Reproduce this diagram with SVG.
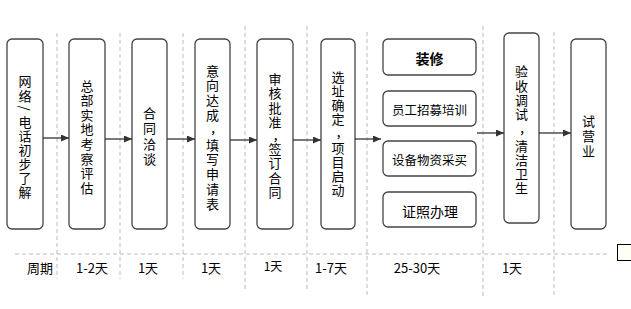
<svg xmlns="http://www.w3.org/2000/svg" width="631" height="309" viewBox="0 0 631 309">
<style>
.box{fill:#fff;stroke:#444;stroke-width:1.3}
.dash{stroke:#bbb;stroke-width:1;stroke-dasharray:4 3;fill:none}
.t{font-family:"Noto Sans CJK SC","Noto Sans CJK JP",sans-serif;font-size:13px;fill:#000;text-anchor:middle;dominant-baseline:central}
.h{font-family:"Noto Sans CJK SC",sans-serif;font-size:12.5px;fill:#000;text-anchor:middle;dominant-baseline:central}
.b{font-family:"Noto Sans CJK SC",sans-serif;font-size:13px;fill:#000;text-anchor:middle}
.arr{stroke:#333;stroke-width:1.3;fill:none;marker-end:url(#ah)}
</style>
<defs>
<marker id="ah" markerUnits="userSpaceOnUse" markerWidth="8" markerHeight="7" refX="8" refY="3.5" orient="auto">
<path d="M0,0 L8,3.5 L0,7 z" fill="#333"/>
</marker>
</defs>
<rect width="631" height="309" fill="#fff"/>
<g id="grid">
<line class="dash" x1="15" y1="254" x2="607" y2="254"/>
<line class="dash" x1="57" y1="33" x2="57" y2="279"/>
<line class="dash" x1="120" y1="33" x2="120" y2="279"/>
<line class="dash" x1="183" y1="33" x2="183" y2="279"/>
<line class="dash" x1="245" y1="26" x2="245" y2="291"/>
<line class="dash" x1="307" y1="26" x2="307" y2="291"/>
<line class="dash" x1="367" y1="32" x2="367" y2="297"/>
<line class="dash" x1="483" y1="26" x2="483" y2="297"/>
<line class="dash" x1="554" y1="32" x2="554" y2="295"/>
</g>
<g id="n1">
<rect class="box" x="7" y="39" width="36" height="190" rx="5"/>
<text class="t" x="25" y="80">网</text>
<text class="t" x="25" y="95">络</text>
<text class="t" x="25" y="108" transform="rotate(90 25 108)">/</text>
<text class="t" x="25" y="121">电</text>
<text class="t" x="25" y="135">话</text>
<text class="t" x="25" y="149">初</text>
<text class="t" x="25" y="163">步</text>
<text class="t" x="25" y="177">了</text>
<text class="t" x="25" y="191">解</text>
</g>
<g id="n2">
<rect class="box" x="69" y="39" width="36" height="190" rx="5"/>
<text class="t" x="87" y="85">总</text>
<text class="t" x="87" y="99.6">部</text>
<text class="t" x="87" y="114.2">实</text>
<text class="t" x="87" y="128.8">地</text>
<text class="t" x="87" y="143.4">考</text>
<text class="t" x="87" y="158">察</text>
<text class="t" x="87" y="172.6">评</text>
<text class="t" x="87" y="187.2">估</text>
</g>
<g id="n3">
<rect class="box" x="132" y="39" width="35" height="190" rx="5"/>
<text class="t" x="149.5" y="112">合</text>
<text class="t" x="149.5" y="127">同</text>
<text class="t" x="149.5" y="143">洽</text>
<text class="t" x="149.5" y="158">谈</text>
</g>
<g id="n4">
<rect class="box" x="195" y="39" width="35" height="190" rx="5"/>
<text class="t" x="212.5" y="70">意</text>
<text class="t" x="212.5" y="84.8">向</text>
<text class="t" x="212.5" y="99.6">达</text>
<text class="t" x="212.5" y="114.4">成</text>
<text class="t" x="216.5" y="127.5">，</text>
<text class="t" x="212.5" y="144">填</text>
<text class="t" x="212.5" y="158.8">写</text>
<text class="t" x="212.5" y="173.6">申</text>
<text class="t" x="212.5" y="188.4">请</text>
<text class="t" x="212.5" y="203.2">表</text>
</g>
<g id="n5">
<rect class="box" x="257" y="39" width="36" height="190" rx="5"/>
<text class="t" x="275" y="78">审</text>
<text class="t" x="275" y="92.5">核</text>
<text class="t" x="275" y="107">批</text>
<text class="t" x="275" y="121.5">准</text>
<text class="t" x="279" y="134.5">，</text>
<text class="t" x="275" y="148">签</text>
<text class="t" x="275" y="162.5">订</text>
<text class="t" x="275" y="177">合</text>
<text class="t" x="275" y="191.5">同</text>
</g>
<g id="n6">
<rect class="box" x="321" y="39" width="34" height="190" rx="5"/>
<text class="t" x="338" y="76">选</text>
<text class="t" x="338" y="90">址</text>
<text class="t" x="338" y="104">确</text>
<text class="t" x="338" y="118">定</text>
<text class="t" x="342" y="131.5">，</text>
<text class="t" x="338" y="147">项</text>
<text class="t" x="338" y="161">目</text>
<text class="t" x="338" y="175">启</text>
<text class="t" x="338" y="189">动</text>
</g>
<g id="n7">
<rect class="box" x="383" y="39" width="93" height="36" rx="5"/>
<text class="h" x="429.5" y="58" font-weight="bold" style="font-size:14px">装修</text>
</g>
<g id="n8">
<rect class="box" x="383" y="91" width="93" height="35" rx="5"/>
<text class="h" x="429.5" y="109">员工招募培训</text>
</g>
<g id="n9">
<rect class="box" x="383" y="141" width="93" height="35" rx="5"/>
<text class="h" x="429.5" y="159">设备物资采买</text>
</g>
<g id="n10">
<rect class="box" x="383" y="192" width="93" height="35" rx="5"/>
<text class="h" x="430" y="211" style="font-size:14px">证照办理</text>
</g>
<g id="n11">
<rect class="box" x="504" y="33" width="35" height="190" rx="5"/>
<text class="t" x="521.5" y="70">验</text>
<text class="t" x="521.5" y="85">收</text>
<text class="t" x="521.5" y="99">调</text>
<text class="t" x="521.5" y="113">试</text>
<text class="t" x="525.5" y="127">，</text>
<text class="t" x="521.5" y="145">清</text>
<text class="t" x="521.5" y="159.5">洁</text>
<text class="t" x="521.5" y="173.5">卫</text>
<text class="t" x="521.5" y="187.5">生</text>
</g>
<g id="n12">
<rect class="box" x="571" y="39" width="35" height="190" rx="5"/>
<text class="t" x="588.5" y="120">试</text>
<text class="t" x="588.5" y="135">营</text>
<text class="t" x="588.5" y="150">业</text>
</g>
<g id="connectors">
<line class="arr" x1="43" y1="138" x2="69" y2="138"/>
<line class="arr" x1="105" y1="139" x2="132" y2="139"/>
<line class="arr" x1="167" y1="139" x2="195" y2="139"/>
<line class="arr" x1="230" y1="140" x2="257" y2="140"/>
<line class="arr" x1="293" y1="140" x2="321" y2="140"/>
<line class="arr" x1="355" y1="139" x2="381" y2="139"/>
<line class="arr" x1="477" y1="133" x2="504" y2="133"/>
<line class="arr" x1="539" y1="133" x2="571" y2="133"/>
</g>
<g id="labels">
<text class="b" x="40" y="273">周期</text>
<text class="b" x="92" y="273">1-2天</text>
<text class="b" x="148" y="273">1天</text>
<text class="b" x="211" y="273">1天</text>
<text class="b" x="273" y="271" style="font-size:12px">1天</text>
<text class="b" x="331" y="273">1-7天</text>
<text class="b" x="417" y="273">25-30天</text>
<text class="b" x="512" y="273">1天</text>
</g>
<g id="corner">
<rect x="617.5" y="244.5" width="16" height="16" fill="#fffff4" stroke="#000" stroke-width="1"/>
</g>
</svg>
